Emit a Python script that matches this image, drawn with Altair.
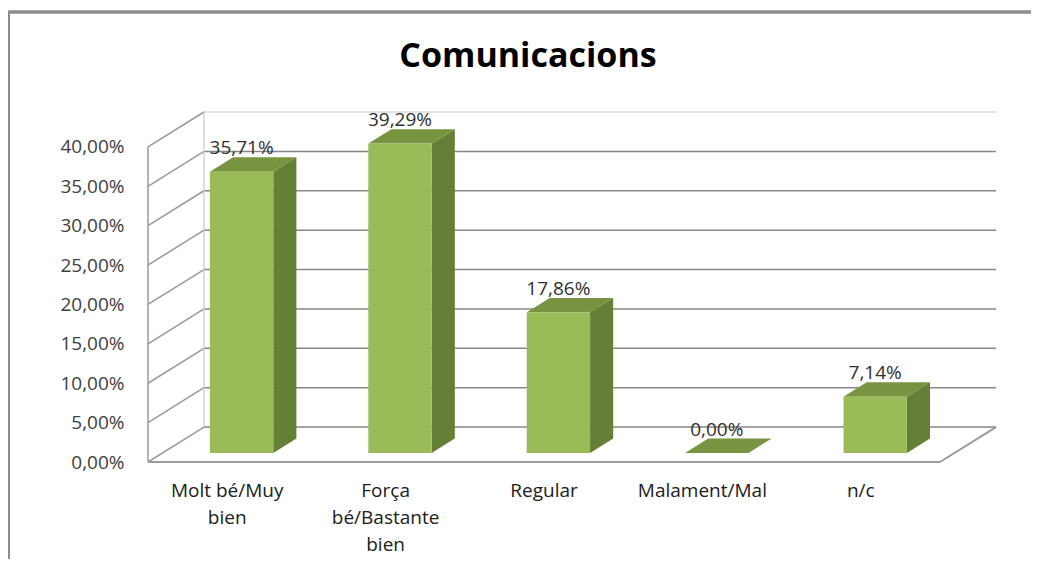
import altair as alt
import pandas as pd

# ---- data ----
categories = ["Molt bé/Muy bien", "Força bé/Bastante bien", "Regular", "Malament/Mal", "n/c"]
label_lines = [["Molt bé/Muy", "bien"], ["Força", "bé/Bastante", "bien"], ["Regular"], ["Malament/Mal"], ["n/c"]]
values = [35.71, 39.29, 17.86, 0.00, 7.14]
tick_values = [0, 5, 10, 15, 20, 25, 30, 35, 40]
title_text = "Comunicacions"

# ---- 3D look (style constants) ----
DX = 0.3535      # depth, in category units
DY = 4.44        # depth, in percent units
D0, D1 = 0.257, 0.67   # bar depth span (fraction of full depth)
BW = 0.40        # bar width in category units
N = len(categories)
XMAX = N + DX
YMAX = max(tick_values) + DY
PX = 7.88
W = 848
H = round(YMAX * PX)
PAD_L, PAD_T = 140, 104

FRONT = "#9BBB59"
SIDE = "#667F37"
TOP = "#789440"
GRID = "#878787"
WALL = "#9a9a9a"
FONT = "Open Sans"
FS = 19

xs = alt.Scale(domain=[0, XMAX], nice=False, zero=False)
ys = alt.Scale(domain=[0, YMAX], nice=False, zero=False)

yaxis = alt.Axis(values=tick_values, labelExpr="replace(format(datum.value/100, '.2%'), '.', ',')",
                 domain=False, ticks=False, grid=False, labelPadding=24,
                 labelFont=FONT, labelFontSize=FS, labelColor="#404040", title=None)

def X(f):
    return alt.X(f, scale=xs, axis=None, stack=None)

def Y(f):
    return alt.Y(f, scale=ys, axis=yaxis, stack=None)

# walls / grid segments
segs = []
for t in tick_values:
    segs.append(dict(x=DX, y=t + DY, x2=N + DX, y2=t + DY,
                     c="#d9d9d9" if t == max(tick_values) else GRID, w=1.5))
    segs.append(dict(x=0, y=t, x2=DX, y2=t + DY, c=WALL, w=1.5))
segs.append(dict(x=0, y=0, x2=0, y2=max(tick_values), c=WALL, w=1.5))
segs.append(dict(x=DX, y=DY, x2=DX, y2=max(tick_values) + DY, c="#c8c8c8", w=1.2))
segs.append(dict(x=0, y=0, x2=N, y2=0, c=WALL, w=2))
segs.append(dict(x=N, y=0, x2=N + DX, y2=DY, c=WALL, w=2))
df_seg = pd.DataFrame(segs)

# bar geometry built from values
front_rows, side_rows, top_rows, lab_rows, cat_rows = [], [], [], [], []
b0, b1 = D0 * DY, D1 * DY
wd = (D1 - D0) * DX
for i, (cat, v) in enumerate(zip(categories, values)):
    xl = i + 0.5 - BW / 2 + D0 * DX
    xr = xl + BW
    front_rows.append(dict(cat=cat, x=xl, x2=xr, y=b0, y2=b0 + v))
    side_rows.append(dict(cat=cat, x=xr, y=b0, y2=b0 + v))
    side_rows.append(dict(cat=cat, x=xr + wd, y=b1, y2=b1 + v))
    top_rows.append(dict(cat=cat, y=b0 + v, x=xl, x2=xr))
    top_rows.append(dict(cat=cat, y=b1 + v, x=xl + wd, x2=xr + wd))
    lab_rows.append(dict(cat=cat, x=(xl + xr) / 2, y=b1 + v, v=v))
    cat_rows.append(dict(cat=cat, x=i + 0.5, y=0, lines=label_lines[i]))

df_front = pd.DataFrame(front_rows)
df_side = pd.DataFrame(side_rows)
df_top = pd.DataFrame(top_rows)
df_lab = pd.DataFrame(lab_rows)
df_cat = pd.DataFrame(cat_rows)

walls = alt.Chart(df_seg).mark_rule().encode(
    x=X("x:Q"), x2="x2:Q", y=Y("y:Q"), y2="y2:Q",
    color=alt.Color("c:N", scale=None),
    strokeWidth=alt.StrokeWidth("w:Q", scale=None),
)

side = alt.Chart(df_side).mark_area(color=SIDE, opacity=1).encode(
    x=X("x:Q"), y=Y("y:Q"), y2="y2:Q", detail="cat:N",
)

top = alt.Chart(df_top).mark_area(color=TOP, opacity=1, orient="horizontal").encode(
    y=Y("y:Q"), x=X("x:Q"), x2="x2:Q", detail="cat:N",
)

front = alt.Chart(df_front).mark_rect(color=FRONT).encode(
    x=X("x:Q"), x2="x2:Q", y=Y("y:Q"), y2="y2:Q",
)

labels = alt.Chart(df_lab).transform_calculate(
    txt="replace(format(datum.v/100, '.2%'), '.', ',')"
).mark_text(font=FONT, fontSize=FS, color="#303030", baseline="bottom", dy=1).encode(
    x=X("x:Q"), y=Y("y:Q"), text="txt:N",
)

cats = alt.Chart(df_cat).mark_text(font=FONT, fontSize=FS, color="#202020", baseline="top",
                                   dy=20, lineHeight=27).encode(
    x=X("x:Q"), y=Y("y:Q"), text="lines",
)

frame_left = alt.Chart(df_cat).mark_rule(color="#8c8c8c", strokeWidth=2.5).encode(
    x=alt.value(-PAD_L + 0.5), x2=alt.value(-PAD_L + 0.5),
    y=alt.value(-PAD_T + 4), y2=alt.value(H + 120)
)
frame_top = alt.Chart(df_cat).mark_rule(color="#8c8c8c", strokeWidth=2.5).encode(
    x=alt.value(-PAD_L), x2=alt.value(W + 60),
    y=alt.value(-PAD_T + 4), y2=alt.value(-PAD_T + 4)
)

title = alt.Chart(pd.DataFrame({"t": [title_text]})).mark_text(
    font=FONT, fontSize=34, fontWeight="bold", color="black", baseline="alphabetic", align="center"
).encode(
    x=alt.value(528 - 8 - PAD_L), y=alt.value(67 - 8 - PAD_T), text="t:N"
)

chart = alt.layer(walls, side, top, front, labels, cats, frame_left, frame_top, title).properties(
    width=W, height=H,
    padding={"left": PAD_L, "top": PAD_T, "right": 35, "bottom": 97},
    autosize="none",
).configure_view(stroke=None)

chart.save("out.html", embed_options={"renderer": "svg", "actions": False})
